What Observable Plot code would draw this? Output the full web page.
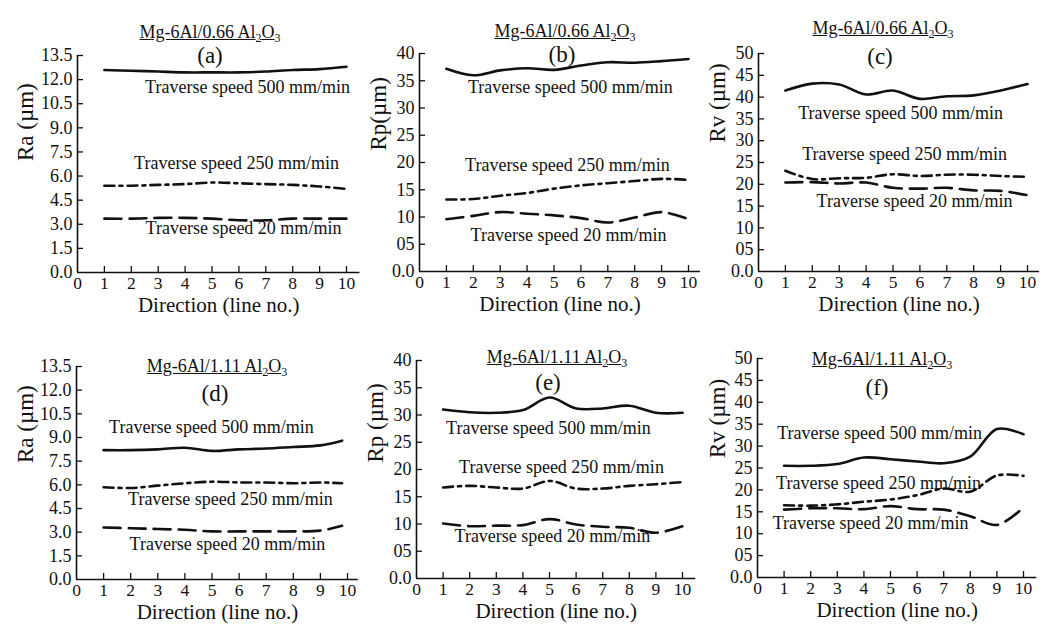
<!DOCTYPE html>
<html><head><meta charset="utf-8">
<script src="https://cdn.jsdelivr.net/npm/d3@7"></script>
<script src="https://cdn.jsdelivr.net/npm/@observablehq/plot@0.6"></script>
<style>
body{margin:0;background:#fff;}
#fig{position:relative;width:1049px;height:626px;background:#fff;font-family:"Liberation Serif","DejaVu Serif",serif;overflow:hidden;color:#111}
.ttl{position:absolute;font-size:18px;text-decoration:underline;white-space:nowrap;transform:translate(-50%,-50%);line-height:1}
.ttl sub{font-size:12px;vertical-align:-4px;line-height:0}
.lt{position:absolute;font-size:23px;transform:translate(-50%,-50%);line-height:1}
#fig svg{position:absolute;overflow:visible;background:transparent !important;font-family:"Liberation Serif","DejaVu Serif",serif !important}
#fig svg text{font-family:"Liberation Serif","DejaVu Serif",serif}
</style></head><body><div id="fig"></div>
<script>
// ---------- data ----------
const lineNo  = [1,2,3,4,5,6,7,8,9,10];
const lineNoD = [1,2,3,4,5,6,7,8,9,9.8];
const xTicks = [0,1,2,3,4,5,6,7,8,9,10];
const xTickLabels = ["0","1","2","3","4","5","6","7","8","9","10"];
const raTicks = [0,1.5,3,4.5,6,7.5,9,10.5,12,13.5];
const raTickLabels = ["0.0","1.5","3.0","4.5","6.0","7.5","9.0","10.5","12.0","13.5"];
const rpTicks = [0,5,10,15,20,25,30,35,40];
const rpTickLabels = ["0.0","05","10","15","20","25","30","35","40"];
const rvTicks = [0,5,10,15,20,25,30,35,40,45,50];
const rvTickLabels = ["0.0","05","10","15","20","25","30","35","40","45","50"];
const speedLabels = ["Traverse speed 500 mm/min","Traverse speed 250 mm/min","Traverse speed 20 mm/min"];
const alloy066 = "Mg-6Al/0.66 Al<sub>2</sub>O<sub>3</sub>";
const alloy111 = "Mg-6Al/1.11 Al<sub>2</sub>O<sub>3</sub>";
const panelLetters = ["(a)","(b)","(c)","(d)","(e)","(f)"];
const yAxisLabels = ["Ra (µm)","Rp(µm)","Rv (µm)","Ra (µm)","Rp (µm)","Rv (µm)"];
const xAxisLabel = "Direction (line no.)";

// Panel (a) Ra, 0.66
const a500 = [12.6,12.55,12.5,12.45,12.45,12.45,12.5,12.6,12.65,12.8];
const a250 = [5.4,5.4,5.45,5.5,5.6,5.55,5.5,5.45,5.35,5.2];
const a20  = [3.35,3.35,3.4,3.4,3.35,3.25,3.25,3.35,3.35,3.35];
// Panel (b) Rp, 0.66
const b500 = [37.2,36.0,36.9,37.3,37.0,37.8,38.4,38.3,38.6,39.0];
const b250 = [13.2,13.3,13.9,14.4,15.2,15.8,16.2,16.6,17.0,16.8];
const b20  = [9.6,10.2,10.9,10.6,10.3,9.8,9.0,9.9,10.9,9.6];
// Panel (c) Rv, 0.66
const c500 = [41.5,43.1,42.9,40.6,41.5,39.6,40.2,40.4,41.5,43.0];
const c250 = [23.1,21.2,21.4,21.5,22.3,21.9,22.2,22.2,21.9,21.7];
const c20  = [20.4,20.5,20.2,20.4,19.2,19.0,19.2,18.6,18.5,17.5];
// Panel (d) Ra, 1.11
const d500 = [8.2,8.2,8.25,8.35,8.15,8.25,8.3,8.4,8.5,8.8];
const d250 = [5.85,5.8,5.95,6.1,6.2,6.15,6.15,6.1,6.15,6.1];
const d20  = [3.3,3.25,3.2,3.15,3.05,3.05,3.05,3.05,3.1,3.4];
// Panel (e) Rp, 1.11
const e500 = [31.0,30.5,30.4,30.9,33.2,31.2,31.2,31.7,30.4,30.4];
const e250 = [16.7,17.0,16.7,16.5,17.9,16.5,16.5,17.0,17.3,17.7];
const e20  = [10.1,9.6,9.7,9.8,10.9,9.9,9.5,9.3,8.4,9.6];
// Panel (f) Rv, 1.11
const f500 = [25.5,25.5,25.9,27.4,27.0,26.5,26.1,27.6,33.9,32.7];
const f250 = [16.5,16.4,16.7,17.3,17.8,18.8,20.3,19.6,23.3,23.2];
const f20  = [15.5,15.8,15.8,15.6,16.3,15.6,15.5,14.0,12.0,16.0];

// label anchor points (data units) for "Traverse speed ..." captions: [500, 250, 20]
const annX = [[6.32,5.91,6.17],[5.61,5.5,5.54],[5.28,5.43,5.8],[4.98,5.68,5.57],[4.96,5.45,5.11],[4.59,4.55,4.25]];
const annY = [[11.5,6.78,2.74],[33.8,19.45,6.6],[36.3,27.0,16.1],[9.63,5.07,2.22],[27.5,20.4,7.7],[32.9,21.5,12.3]];

// ---------- layout ----------
const fig = document.getElementById("fig");
const FONT = "Liberation Serif, DejaVu Serif, serif";
const dashes = [null, "10,5,3,5", "17,8"];

const panels = [
  {svg:[0,0,365,320],  x0:77,  xPer:26.9, xmax:10.5,  y0:55,  y1:272, ymax:13.5, xs:lineNo,  ser:[a500,a250,a20], ticks:raTicks, tl:raTickLabels, yl:[-52,-3],  title:[alloy066,210,32], let:[210,55]},
  {svg:[345,0,360,320],x0:419, xPer:26.9, xmax:10.45, y0:53,  y1:271, ymax:40,   xs:lineNo,  ser:[b500,b250,b20], ticks:rpTicks, tl:rpTickLabels, yl:[-41,-12], title:[alloy066,565,31], let:[562,54]},
  {svg:[690,0,359,320],x0:758, xPer:26.9, xmax:10.45, y0:53,  y1:271, ymax:50,   xs:lineNo,  ser:[c500,c250,c20], ticks:rvTicks, tl:rvTickLabels, yl:[-41,-20], title:[alloy066,883,28], let:[880,56]},
  {svg:[0,310,365,316],x0:76,  xPer:27.1, xmax:10.4,  y0:366, y1:579, ymax:13.5, xs:lineNoD, ser:[d500,d250,d20], ticks:raTicks, tl:raTickLabels, yl:[-51,-10], title:[alloy111,217,366], let:[215,393]},
  {svg:[345,310,360,316],x0:416,xPer:26.6, xmax:10.5,  y0:360, y1:578, ymax:40,   xs:lineNo,  ser:[e500,e250,e20], ticks:rpTicks, tl:rpTickLabels, yl:[-41,-7],  title:[alloy111,557,357], let:[548,382]},
  {svg:[690,310,359,316],x0:757,xPer:26.6, xmax:10.5,  y0:358, y1:577, ymax:50,   xs:lineNo,  ser:[f500,f250,f20], ticks:rvTicks, tl:rvTickLabels, yl:[-40,-10], title:[alloy111,882,359], let:[877,387]}
];

panels.forEach((p, k) => {
  const [L, T, W, H] = p.svg;
  const x1 = p.x0 + p.xmax * p.xPer;
  const yPer = (p.y1 - p.y0) / p.ymax;
  const rows = [];
  p.ser.forEach((vals, s) => vals.forEach((v, i) => rows.push({x: p.xs[i], y: v, s})));
  const yTickRows = p.ticks.map((v, i) => ({v, label: p.tl[i]}));
  const xTickRows = xTicks.map((v, i) => ({v, label: xTickLabels[i]}));
  const ann = speedLabels.map((t, i) => ({x: annX[k][i], y: annY[k][i], t}));
  const tx = {fontFamily: FONT, fill: "#111"};

  const marks = [
    Plot.ruleY([0], {x1: 0, x2: p.xmax, stroke: "#111", strokeWidth: 1.6}),
    Plot.ruleX([0], {y1: 0, y2: p.ymax, stroke: "#111", strokeWidth: 1.6}),
    Plot.ruleY(p.ticks.slice(1), {x1: 0, x2: 6 / p.xPer, stroke: "#111", strokeWidth: 1.3}),
    Plot.ruleX(xTicks.slice(1), {y1: 0, y2: 6 / yPer, stroke: "#111", strokeWidth: 1.3}),
    Plot.text(yTickRows, {x: () => 0, y: "v", text: "label", textAnchor: "end", dx: -5, fontSize: 18, ...tx}),
    Plot.text(xTickRows, {x: "v", y: () => 0, text: "label", dy: 11, fontSize: 17.5, ...tx}),
  ];
  [0,1,2].forEach(s => {
    marks.push(Plot.line(rows.filter(r => r.s === s), {
      x: "x", y: "y", curve: "catmull-rom", stroke: "#111", strokeWidth: 2.6,
      strokeDasharray: dashes[s] || undefined
    }));
  });
  marks.push(Plot.text(ann, {x: "x", y: "y", text: "t", fontSize: 18, ...tx}));
  marks.push(Plot.text([yAxisLabels[k]], {frameAnchor: "left", rotate: -90, dx: p.yl[0], dy: p.yl[1], fontSize: 23, ...tx}));
  marks.push(Plot.text([xAxisLabel], {frameAnchor: "bottom", dy: 39, fontSize: 21, ...tx}));

  const svg = Plot.plot({
    width: W, height: H,
    marginLeft: p.x0 - L, marginRight: L + W - x1,
    marginTop: p.y0 - T, marginBottom: T + H - p.y1,
    x: {domain: [0, p.xmax], axis: null},
    y: {domain: [0, p.ymax], axis: null},
    style: "background: transparent; font-family: 'Liberation Serif', serif; font-size: 17px; overflow: visible;",
    marks
  });
  svg.style.left = L + "px";
  svg.style.top = T + "px";
  fig.appendChild(svg);

  const t = document.createElement("div");
  t.className = "ttl";
  t.innerHTML = p.title[0];
  t.style.left = p.title[1] + "px";
  t.style.top = p.title[2] + "px";
  fig.appendChild(t);

  const l = document.createElement("div");
  l.className = "lt";
  l.textContent = panelLetters[k];
  l.style.left = p.let[0] + "px";
  l.style.top = p.let[1] + "px";
  fig.appendChild(l);
});
</script></body></html>
